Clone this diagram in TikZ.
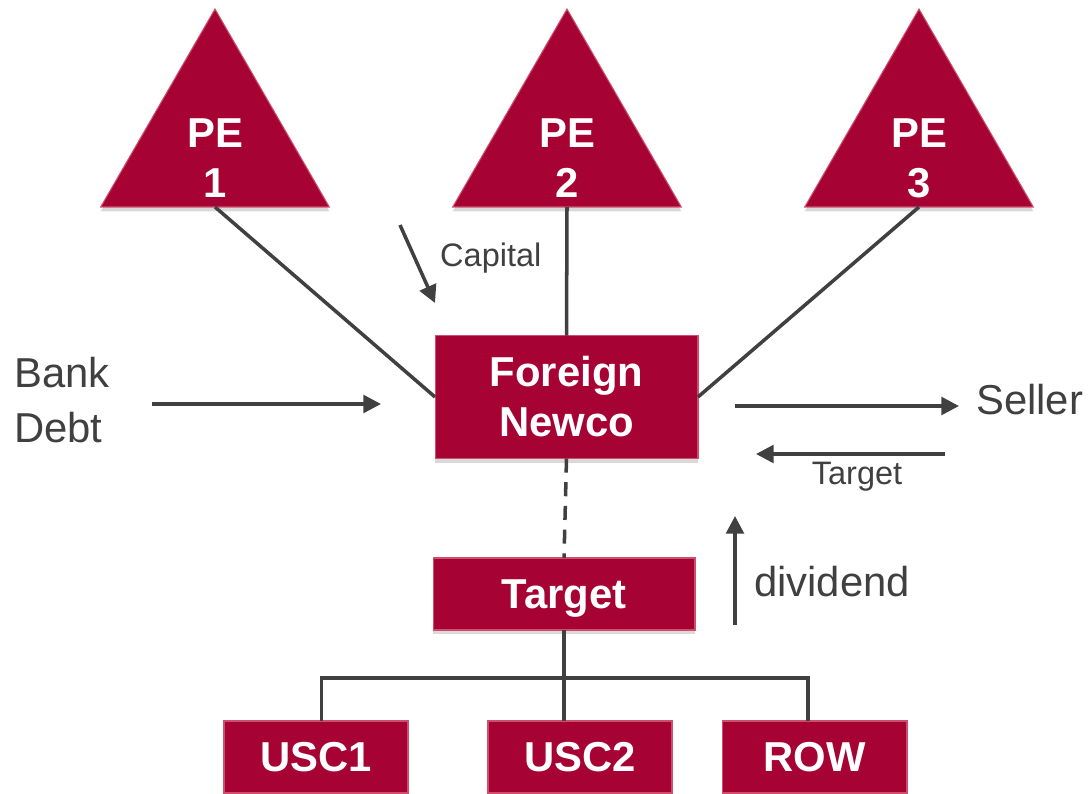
\documentclass[tikz,border=0pt]{standalone}
\usepackage{fontspec}
\setmainfont{Liberation Sans}
\usetikzlibrary{shapes.geometric,shadows,arrows.meta}
\definecolor{crimson}{RGB}{166,3,52}
\definecolor{crimsonedge}{RGB}{204,80,110}
\definecolor{ink}{RGB}{64,64,64}
\begin{document}
\begin{tikzpicture}[x=0.02cm,y=-0.02cm,
		entity/.style={fill=crimson,draw=crimsonedge,line width=0.6pt,
			drop shadow={shadow xshift=0pt,shadow yshift=-2.5pt,opacity=0.3}},
		pe/.style={entity,regular polygon,regular polygon sides=3,minimum size=5.28cm,inner sep=0pt,outer sep=0pt},
		box/.style={entity,rectangle,inner sep=0pt,outer sep=0pt,text=white,align=center,
			font=\bfseries\fontsize{23.8}{28.5}\selectfont},
		boxtext/.style={text=white,align=center,font=\bfseries\fontsize{23.8}{28.5}\selectfont},
		link/.style={draw=ink,line width=2pt},
		flow/.style={link,-{Triangle[length=10pt,width=10pt]}},
		note/.style={text=ink,font=\fontsize{23.8}{31}\selectfont},
		small/.style={text=ink,font=\fontsize{18.5}{22}\selectfont}]
	\useasboundingbox (0,0) rectangle (1088,794);

	\foreach \i/\x in {1/215,2/567,3/919}{
		\node[pe] (pe\i) at (\x,141) {};
		\node[boxtext] (pe\i text) at ([yshift=-0.34cm]pe\i.center) {PE\\\i};
	}

	\node[box,minimum width=5.26cm,minimum height=2.46cm] (newco) at (566.5,397) {Foreign\\Newco};
	\node[box,minimum width=5.24cm,minimum height=1.44cm,text depth=0pt] (target) at (564,594) {Target};
	\node[box,minimum width=3.68cm,minimum height=1.44cm] (usc1) at (316,757) {USC1};
	\node[box,minimum width=3.68cm,minimum height=1.44cm] (usc2) at (580,757) {USC2};
	\node[box,minimum width=3.70cm,minimum height=1.44cm] (row) at (814.5,757) {ROW};

	\draw[link] (pe1.side 2) -- (newco.west);
	\draw[link] (pe2.side 2) -- (newco.north);
	\draw[link] (pe3.side 2) -- (newco.east);
	\draw[link,dash pattern=on 8pt off 5.5pt] (newco.south) -- (target.north);

	\coordinate (bar) at (564,678);
	\draw[link] (target.south) -- (target.south |- usc2.north);
	\draw[link] ([xshift=0.11cm]usc1.north) |- (bar) -| ([xshift=-0.13cm]row.north);

	\node[note,align=left,anchor=west] (bank) at (8,400) {Bank\\Debt};
	\node[note,anchor=west] (seller) at (970,400) {Seller};
	\node[note,anchor=west] (dividend) at (748,582) {dividend};
	\node[small,anchor=west] (capital) at (434,258) {Capital};
	\node[small] (back) at (857,477) {Target};

	\coordinate (capital a) at (400,225);
	\coordinate (capital b) at (435,303);
	\coordinate (debt a) at (152,404);
	\coordinate (debt b) at (381,404);
	\coordinate (pay a) at (735,406);
	\coordinate (pay b) at (959,406);
	\coordinate (back a) at (945,454);
	\coordinate (back b) at (756,454);
	\coordinate (div a) at (735,625);
	\coordinate (div b) at (735,516);

	\draw[flow] (capital a) -- (capital b);
	\draw[flow] (debt a) -- (debt b);
	\draw[flow] (pay a) -- (pay b);
	\draw[flow] (back a) -- (back b);
	\draw[flow] (div a) -- (div b);
\end{tikzpicture}
\end{document}
